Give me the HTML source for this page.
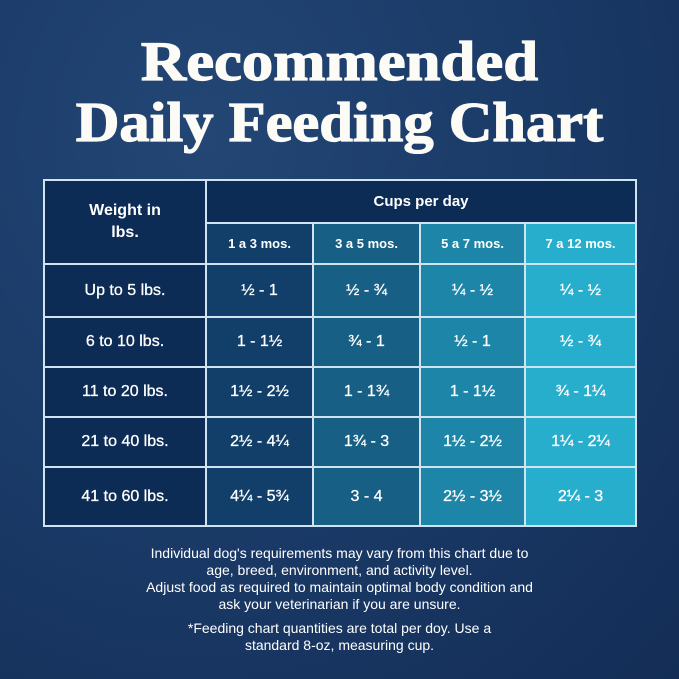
<!DOCTYPE html>
<html><head><style>
body{margin:0;width:679px;height:679px;overflow:hidden;background:#1b3d6c;position:relative;font-family:"Liberation Sans",sans-serif;color:#fff}
.bg{position:absolute;inset:0;background:radial-gradient(ellipse at 30% 20%,#234675 0%,#1a3a67 50%,#132d56 100%)}
.t{position:absolute;left:0;width:679px;text-align:center;font-family:"Liberation Serif",serif;font-weight:bold;font-size:56px;line-height:60px;color:#fcfbf6;-webkit-text-stroke:1.2px #fcfbf6}
.c{position:absolute;display:flex;align-items:center;justify-content:center;font-weight:bold;text-align:center}
.d{font-size:16px;font-weight:normal;-webkit-text-stroke:0.3px #fff}
.f{position:absolute;left:0;width:679px;text-align:center;font-size:14px;line-height:17px}
</style></head><body>
<div class="bg"></div>
<div class="t" style="top:32px;transform:scaleX(1.12)">Recommended</div>
<div class="t" style="top:93px;transform:scaleX(1.08)">Daily Feeding Chart</div>
<div style="position:absolute;left:43px;top:179px;width:594px;height:348px;background:#cfe3f0"></div>
<div class="c" style="left:45px;top:181px;width:160px;height:82px;background:#0d2c55;font-size:16px;line-height:22px">Weight in<br>lbs.</div>
<div class="c" style="left:207px;top:181px;width:428px;height:41px;background:#0d2c55;font-size:15px">Cups per day</div>
<div class="c" style="left:207px;top:224px;width:105px;height:39px;background:#113f69;font-size:13px">1 a 3 mos.</div>
<div class="c" style="left:314px;top:224px;width:105px;height:39px;background:#175f84;font-size:13px">3 a 5 mos.</div>
<div class="c" style="left:421px;top:224px;width:103px;height:39px;background:#1d86a8;font-size:13px">5 a 7 mos.</div>
<div class="c" style="left:526px;top:224px;width:109px;height:39px;background:#27aecd;font-size:13px">7 a 12 mos.</div>

<div class="c d" style="left:45px;top:265px;width:160px;height:51px;background:#0d2c55">Up to 5 lbs.</div>
<div class="c d" style="left:207px;top:265px;width:105px;height:51px;background:#113f69">½ - 1</div>
<div class="c d" style="left:314px;top:265px;width:105px;height:51px;background:#175f84">½ - ¾</div>
<div class="c d" style="left:421px;top:265px;width:103px;height:51px;background:#1d86a8">¼ - ½</div>
<div class="c d" style="left:526px;top:265px;width:109px;height:51px;background:#27aecd">¼ - ½</div>

<div class="c d" style="left:45px;top:318px;width:160px;height:48px;background:#0d2c55">6 to 10 lbs.</div>
<div class="c d" style="left:207px;top:318px;width:105px;height:48px;background:#113f69">1 - 1½</div>
<div class="c d" style="left:314px;top:318px;width:105px;height:48px;background:#175f84">¾ - 1</div>
<div class="c d" style="left:421px;top:318px;width:103px;height:48px;background:#1d86a8">½ - 1</div>
<div class="c d" style="left:526px;top:318px;width:109px;height:48px;background:#27aecd">½ - ¾</div>

<div class="c d" style="left:45px;top:368px;width:160px;height:48px;background:#0d2c55">11 to 20 lbs.</div>
<div class="c d" style="left:207px;top:368px;width:105px;height:48px;background:#113f69">1½ - 2½</div>
<div class="c d" style="left:314px;top:368px;width:105px;height:48px;background:#175f84">1 - 1¾</div>
<div class="c d" style="left:421px;top:368px;width:103px;height:48px;background:#1d86a8">1 - 1½</div>
<div class="c d" style="left:526px;top:368px;width:109px;height:48px;background:#27aecd">¾ - 1¼</div>

<div class="c d" style="left:45px;top:418px;width:160px;height:48px;background:#0d2c55">21 to 40 lbs.</div>
<div class="c d" style="left:207px;top:418px;width:105px;height:48px;background:#113f69">2½ - 4¼</div>
<div class="c d" style="left:314px;top:418px;width:105px;height:48px;background:#175f84">1¾ - 3</div>
<div class="c d" style="left:421px;top:418px;width:103px;height:48px;background:#1d86a8">1½ - 2½</div>
<div class="c d" style="left:526px;top:418px;width:109px;height:48px;background:#27aecd">1¼ - 2¼</div>

<div class="c d" style="left:45px;top:468px;width:160px;height:57px;background:#0d2c55">41 to 60 lbs.</div>
<div class="c d" style="left:207px;top:468px;width:105px;height:57px;background:#113f69">4¼ - 5¾</div>
<div class="c d" style="left:314px;top:468px;width:105px;height:57px;background:#175f84">3 - 4</div>
<div class="c d" style="left:421px;top:468px;width:103px;height:57px;background:#1d86a8">2½ - 3½</div>
<div class="c d" style="left:526px;top:468px;width:109px;height:57px;background:#27aecd">2¼ - 3</div>

<div class="f" style="top:545px">Individual dog's requirements may vary from this chart due to<br>age, breed, environment, and activity level.<br>Adjust food as required to maintain optimal body condition and<br>ask your veterinarian if you are unsure.</div>
<div class="f" style="top:620px">*Feeding chart quantities are total per doy. Use a<br>standard 8-oz, measuring cup.</div>
</body></html>
